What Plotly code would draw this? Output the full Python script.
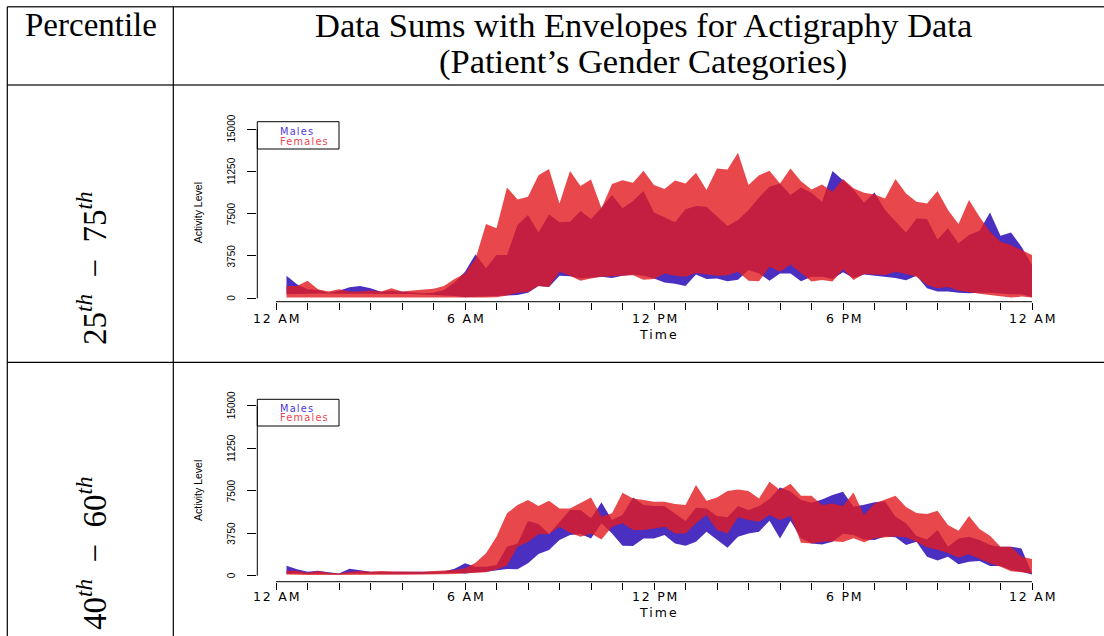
import plotly.graph_objects as go

W, H = 1104, 636

def PX(x):
    return x / W

def PY(y):
    return 1 - y / H

# ---------------- data ----------------
minutes = list(range(20, 1441, 20))          # 72 time stamps (20-min bins)
hours = [m / 60 for m in minutes]

# Panel 1: 25th - 75th percentile envelopes
male_upper_25_75 = [2000, 1250, 800, 740, 500, 680, 970, 1090, 885, 590, 680, 590, 500, 440, 500, 740, 1390, 2360,
                    3900, 2660, 3840, 3840, 6490, 7380, 5840, 7430, 6730, 6790, 7730, 7020, 8050, 9150, 7970, 8610,
                    9500, 7610, 7170, 6730, 7880, 8170, 8110, 7230, 6400, 6930, 7820, 8940, 9880, 10180,
                    9150, 9820, 9350, 8560, 11270, 10470, 9650, 8470, 9380, 7820, 6870, 5840, 7080, 7020, 5220,
                    6200, 4870, 5600, 5990, 7610, 5550, 5840, 4570, 2950]
male_lower_25_75 = [350, 380, 400, 420, 400, 420, 400, 400, 420, 400, 400, 380, 380, 350, 300, 250, 200,
                    100, 150, 150, 200, 250, 300, 500, 1100, 1000, 2000, 1950, 1750, 1850, 1900, 1800, 2000, 2100,
                    2000, 1750, 1400, 1300, 1100, 2100, 1700, 1750, 1500, 1650, 2500, 2200, 1560, 2200,
                    2200, 1500, 1900, 1900, 1700, 2300, 1800, 2100, 2000, 1900, 1800, 1600, 2000, 900, 600,
                    600, 500, 450, 500, 500, 450, 350, 350, 100]
female_upper_25_75 = [1100, 1100, 1550, 800, 600, 800, 600, 600, 700, 600, 900, 600, 700, 800, 850, 1100, 1700, 2200,
                      3500, 6580, 6200, 9820, 8760, 9000, 10900, 11450, 8400, 11270, 9940, 10530, 7970, 10120,
                      10470, 10240, 11300, 10030, 9680, 10440, 10180, 11120, 9590, 11500, 11420, 12890, 10030,
                      10900, 11300, 10180,
                      11500, 10380, 9650, 10090, 9440, 10560, 9740, 9350, 9200, 8850, 10560, 9290, 8560, 8410,
                      9500, 7820, 6580, 8700, 7230, 5900, 5020, 4720, 4280, 3830]
female_lower_25_75 = [80, 60, 60, 50, 50, 60, 50, 50, 50, 50, 60, 50, 50, 60, 60, 80, 100,
                      100, 80, 80, 100, 250, 500, 550, 1100, 1000, 2350, 2000, 1550, 1750, 1900, 1950, 2000, 2050,
                      1650, 1700, 2200, 2000, 1900, 2250, 2150, 2000, 2050, 2350, 1550, 1500, 2800, 2360,
                      3000, 2200, 1480, 1620, 1480, 2570, 1620, 2150, 2120, 2070, 2360, 2150, 1920, 1180, 890,
                      1000, 700, 550, 400, 300, 200, 60, 150, 60]

# Panel 2: 40th - 60th percentile envelopes
male_upper_40_60 = [880, 560, 350, 440, 300, 200, 620, 500, 350, 350, 350, 300, 300, 320, 350, 380, 620,
                    1090, 800, 800, 940, 2560, 2850, 4820, 4560, 3680, 4760, 5790, 5790, 5060, 6470, 4910, 5350,
                    6910, 6230, 6140, 6140, 5500, 4820, 6000, 5940, 5260, 5150, 6140, 5790, 6140, 6760, 7790,
                    7440, 6670, 6440, 6730, 7110, 7400, 6090, 6260, 6470, 6560, 5200, 4620, 3500, 3200, 4030,
                    2560, 3290, 3440, 3150, 2700, 2560, 2560, 2410, 200]
male_lower_40_60 = [150, 200, 150, 180, 150, 100, 200, 200, 180, 160, 160, 150, 150, 160, 170, 200, 250,
                    200, 300, 350, 450, 600, 560, 1090, 1910, 2270, 3150, 3590, 3680, 3290, 4620, 3730, 2650,
                    2620, 3290, 3290, 3590, 2850, 2650, 3000, 3880, 3150, 2470, 3440, 3730, 3880, 4850, 3290,
                    4850, 3300, 2850, 2750, 3000, 3700, 3600, 3200, 3150, 3450, 3400, 2700, 3000, 1680, 1340,
                    1680, 1000, 1240, 1300, 850, 850, 500, 350, 100]
female_upper_40_60 = [440, 440, 260, 410, 260, 200, 350, 410, 350, 410, 380, 350, 350, 350, 410, 440, 500,
                      650, 1150, 1970, 3440, 5500, 6230, 6670, 6150, 6620, 5940, 5940, 6440, 6910, 5200, 5500,
                      7320, 6820, 6670, 6530, 6530, 6320, 6230, 8000, 6620, 6910, 7470, 7610, 7470, 6820, 8290,
                      7560,
                      8120, 7060, 7060, 6230, 6380, 6150, 7350, 5350, 6380, 6730, 7060, 6060, 5530, 5440, 5730,
                      4470, 3970, 5260, 4120, 3530, 2560, 2560, 1680, 1470]
female_lower_40_60 = [100, 80, 60, 80, 60, 50, 80, 80, 80, 80, 90, 80, 80, 100, 100, 120, 150,
                      150, 250, 300, 550, 900, 2560, 2980, 3650, 3680, 4320, 3790, 3440, 3730, 3200, 4320, 4620,
                      4030, 4030, 4170, 4320, 3730, 3730, 4620, 5350, 4030, 3730, 5150, 4910, 4760, 5350, 4910,
                      5300, 2900, 2850, 3000, 3050, 2980, 3300, 2950, 3300, 3400, 3450, 3400, 3000, 2500, 2300,
                      2000, 1600, 1900, 1500, 1100, 800, 400, 300, 200]

y_ticks = [0, 3750, 7500, 11250, 15000]
y_tick_labels = ["0", "3750", "7500", "11250", "15000"]
x_tick_hours = list(range(0, 25))
x_label_hours = [0, 6, 12, 18, 24]
x_label_names = ["12 AM", "6 AM", "12 PM", "6 PM", "12 AM"]
series_names = ["Males", "Females"]
row_labels = ["25<sup><i>th</i></sup>\u2002\u2212\u200275<sup><i>th</i></sup>",
              "40<sup><i>th</i></sup>\u2002\u2212\u200260<sup><i>th</i></sup>"]

# ---------------- styling ----------------
MALE_FILL = "#4A2FC0"
FEMALE_FILL = "rgba(226,26,31,0.8)"
MALE_TXT = "#5038DA"
FEMALE_TXT = "#EC4450"
SANS = "DejaVu Sans"
SANS2 = "Liberation Sans, Arial, sans-serif"
SERIF = "Liberation Serif, Times New Roman, serif"

X_LEFT, X_RIGHT, X_ZERO, PX_PER_H = 257.3, 1061.0, 276.0, 31.5
panels = [
    dict(y_zero=298.3, ppu=169.3 / 15000, y_bottom=301.7, y_top=112.0,
         mu=male_upper_25_75, ml=male_lower_25_75, fu=female_upper_25_75, fl=female_lower_25_75,
         leg_top=121.7, leg_bot=149.0, males_y=131.3, females_y=141.0,
         act_y=213.3, tick_lab_y=318.0, time_y=334.5),
    dict(y_zero=575.7, ppu=170.0 / 15000, y_bottom=581.7, y_top=390.0,
         mu=male_upper_40_60, ml=male_lower_40_60, fu=female_upper_40_60, fl=female_lower_40_60,
         leg_top=399.3, leg_bot=426.0, males_y=408.0, females_y=417.7,
         act_y=491.0, tick_lab_y=596.0, time_y=612.5),
]

fig = go.Figure()
annotations = []
shapes = []

xrange = [(X_LEFT - X_ZERO) / PX_PER_H, (X_RIGHT - X_ZERO) / PX_PER_H]

for i, p in enumerate(panels):
    xa = "x" if i == 0 else "x2"
    ya = "y" if i == 0 else "y2"
    xkey = "xaxis" if i == 0 else "xaxis2"
    ykey = "yaxis" if i == 0 else "yaxis2"

    # envelopes
    for upper, lower, color in [(p["mu"], p["ml"], MALE_FILL), (p["fu"], p["fl"], FEMALE_FILL)]:
        fig.add_trace(go.Scatter(
            x=hours + hours[::-1], y=upper + lower[::-1],
            fill="toself", fillcolor=color, mode="lines", line=dict(width=0, color=color),
            xaxis=xa, yaxis=ya, hoverinfo="skip", showlegend=False))

    yrange = [(p["y_zero"] - p["y_bottom"]) / p["ppu"],
              (p["y_zero"] - p["y_top"]) / p["ppu"]]

    fig.update_layout(**{
        xkey: dict(domain=[PX(X_LEFT), PX(X_RIGHT)], range=xrange, anchor=ya,
                   tickmode="array", tickvals=x_tick_hours, showticklabels=False,
                   ticks="outside", ticklen=7.5, tickwidth=1, tickcolor="black",
                   showgrid=False, zeroline=False, showline=False, fixedrange=True),
        ykey: dict(domain=[PY(p["y_bottom"]), PY(p["y_top"])], range=yrange, anchor=xa,
                   tickmode="array", tickvals=y_ticks, showticklabels=False,
                   ticks="outside", ticklen=9, tickwidth=1, tickcolor="black",
                   showgrid=False, zeroline=False, showline=False, fixedrange=True),
    })

    # axis lines (R style: only over the labelled span)
    shapes.append(dict(type="line", xref=xa, yref=ya + " domain", x0=x_tick_hours[0], x1=x_tick_hours[-1],
                       y0=0, y1=0, line=dict(color="black", width=1)))
    shapes.append(dict(type="line", xref=xa + " domain", yref=ya, x0=0, x1=0, y0=y_ticks[0], y1=y_ticks[-1],
                       line=dict(color="black", width=1)))

    # x tick labels
    for h, lab in zip(x_label_hours, x_label_names):
        annotations.append(dict(xref=xa, yref="paper", x=h, y=PY(p["tick_lab_y"]),
                                text='<span style="letter-spacing:1.8px">%s</span>' % lab,
                                showarrow=False, xanchor="center", yanchor="middle", xshift=1,
                                font=dict(family=SANS, size=12.5, color="black")))
    # y tick labels (rotated)
    for v, lab in zip(y_ticks, y_tick_labels):
        annotations.append(dict(xref="paper", yref=ya, x=PX(231.5), y=v, text=lab, showarrow=False,
                                textangle=-90, xanchor="center", yanchor="middle",
                                font=dict(family=SANS2, size=10, color="black")))
    annotations.append(dict(xref="paper", yref="paper", x=PX(198), y=PY(p["act_y"]), text="Activity Level",
                            showarrow=False, textangle=-90, xanchor="center", yanchor="middle",
                            font=dict(family=SANS2, size=10.5, color="black")))
    annotations.append(dict(xref="paper", yref="paper", x=PX(659), y=PY(p["time_y"]),
                            text='<span style="letter-spacing:2px">Time</span>',
                            showarrow=False, xanchor="center", yanchor="middle",
                            font=dict(family=SANS, size=12.5, color="black")))

    # legend box
    shapes.append(dict(type="rect", xref="paper", yref="paper", x0=PX(257.3), x1=PX(339),
                       y0=PY(p["leg_bot"]), y1=PY(p["leg_top"]), line=dict(color="black", width=1),
                       fillcolor="rgba(255,255,255,0)"))
    for name, yy, col in [(series_names[0], p["males_y"], MALE_TXT), (series_names[1], p["females_y"], FEMALE_TXT)]:
        annotations.append(dict(xref="paper", yref="paper", x=PX(279), y=PY(yy),
                                text='<span style="letter-spacing:1.2px">%s</span>' % name,
                                showarrow=False, xanchor="left", yanchor="middle", borderpad=0,
                                font=dict(family=SANS, size=9.8, color=col)))

# ---------------- table frame ----------------
for (x0, y0, x1, y1, w, c) in [
    (7.3, 6.7, 1104, 6.7, 1.6, "#333"),
    (7.3, 85.0, 1104, 85.0, 1.6, "#333"),
    (7.3, 362.3, 1104, 362.3, 1.2, "black"),
    (7.3, 6.7, 7.3, 636, 1.2, "black"),
    (173.3, 6.7, 173.3, 636, 1.2, "black"),
]:
    shapes.append(dict(type="line", xref="paper", yref="paper", x0=PX(x0), x1=PX(x1), y0=PY(y0), y1=PY(y1),
                       line=dict(color=c, width=w)))

annotations += [
    dict(xref="paper", yref="paper", x=PX(91), y=PY(25), text="Percentile", showarrow=False,
         xanchor="center", yanchor="middle", font=dict(family=SERIF, size=33, color="black")),
    dict(xref="paper", yref="paper", x=PX(643), y=PY(25), text="Data Sums with Envelopes for Actigraphy Data",
         showarrow=False, xanchor="center", yanchor="middle", font=dict(family=SERIF, size=34.5, color="black")),
    dict(xref="paper", yref="paper", x=PX(643), y=PY(62), text="(Patient\u2019s Gender Categories)",
         showarrow=False, xanchor="center", yanchor="middle", font=dict(family=SERIF, size=34.5, color="black")),
    dict(xref="paper", yref="paper", x=PX(92), y=PY(268), text=row_labels[0], showarrow=False,
         textangle=-90, xanchor="center", yanchor="middle", font=dict(family=SERIF, size=33, color="black")),
    dict(xref="paper", yref="paper", x=PX(92), y=PY(553), text=row_labels[1], showarrow=False,
         textangle=-90, xanchor="center", yanchor="middle", font=dict(family=SERIF, size=33, color="black")),
]

fig.update_layout(width=W, height=H, margin=dict(l=0, r=0, t=0, b=0), autosize=False,
                  paper_bgcolor="white", plot_bgcolor="white", showlegend=False,
                  annotations=annotations, shapes=shapes)

fig.write_html("out.html", config={"displayModeBar": False})
